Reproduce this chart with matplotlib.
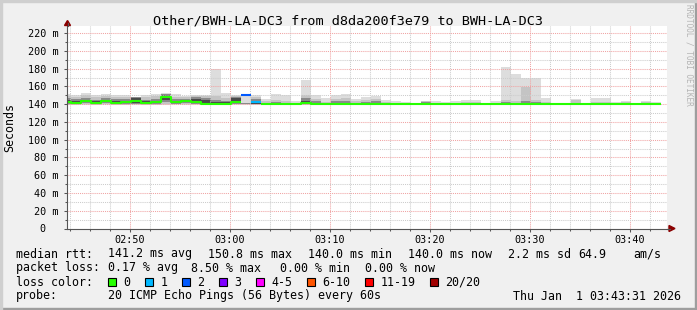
import numpy as np
import matplotlib
matplotlib.use("Agg")
import matplotlib.pyplot as plt
from matplotlib.patches import Rectangle, Polygon
from matplotlib.lines import Line2D
from matplotlib.ticker import MultipleLocator, FuncFormatter

plt.rcParams['font.family'] = ['DejaVu Sans Mono']

W, H = 697, 310

title = "Other/BWH-LA-DC3 from d8da200f3e79 to BWH-LA-DC3"
y_label = "Seconds"
watermark = "RRDTOOL / TOBI OETIKER"

# time axis: minutes after 02:40
base_hour, base_min = 2, 40
view_start, view_end = 3.7, 63.7
first_bin_start = 3.1          # 02:43:06
step_min = 1.0

# median rtt per 60 s step (ms)
median_ms = [142.5, 141.8, 143.5, 141.3, 143.5, 141.5, 142.0, 144.0, 141.5, 142.0,
             148.0, 142.0, 144.0, 142.3, 140.5, 140.0, 140.0, 142.5, 150.8, 142.3,
             140.0, 140.0, 140.0, 140.0, 141.8, 140.3, 140.0, 140.0, 140.0, 140.0,
             140.0, 140.0, 140.0, 140.0, 140.0, 140.0, 140.0, 140.0, 140.0, 140.0,
             140.0, 140.0, 140.0, 140.0, 140.0, 140.0, 140.0, 140.0, 140.0, 140.0,
             140.0, 140.0, 140.0, 140.0, 140.0, 140.0, 140.0, 140.0, 140.0, 140.0]

# lost pings (of 20) per step
loss_pings = [0, 0, 0, 0, 0, 0, 0, 0, 0, 0,
              0, 0, 0, 0, 0, 0, 0, 0, 1.7, 0.35,
              0, 0, 0, 0, 0, 0, 0, 0, 0, 0,
              0, 0, 0, 0, 0, 0, 0, 0, 0, 0,
              0, 0, 0, 0, 0, 0, 0, 0, 0, 0,
              0, 0, 0, 0, 0, 0, 0, 0, 0, 0]

# smoke: nested ping ranges (outer band1 ... inner band4), ms
band1_hi = [151.5, 150.5, 153.0, 150.5, 151.5, 150.0, 150.0, 148.5, 150.5, 152.0,
            153.0, 151.0, 149.5, 150.5, 150.5, 180.0, 152.5, 150.0, 152.0, 150.0,
            146.0, 151.0, 150.0, 143.5, 167.0, 150.0, 147.0, 150.0, 151.5, 146.0,
            148.0, 149.5, 144.5, 143.5, 142.5, 140.8, 143.5, 143.5, 142.0, 143.0,
            144.5, 144.5, 141.5, 143.5, 182.0, 174.0, 169.5, 169.5, 147.0, 141.5,
            140.8, 146.0, 140.8, 147.0, 147.0, 142.5, 143.5, 140.8, 143.5, 142.5]
band2_hi = [149.0, 148.0, 150.0, 148.0, 149.0, 148.0, 148.0, 148.0, 148.0, 149.5,
            152.0, 148.5, 147.5, 149.0, 149.0, 149.0, 147.0, 149.0, 141.5, 148.0,
            143.0, 145.0, 144.0, 141.5, 150.0, 146.0, 142.5, 146.0, 146.5, 143.0,
            145.0, 146.0, 142.5, 141.5, 141.0, 140.5, 143.0, 141.5, 141.0, 141.5,
            142.0, 142.0, 140.8, 141.8, 145.0, 143.5, 159.0, 145.0, 142.5, 140.8,
            140.5, 144.5, 140.5, 142.5, 142.5, 141.0, 142.0, 140.5, 142.0, 141.0]
band3_hi = [146.5, 145.5, 147.0, 145.0, 146.5, 145.5, 145.5, 147.5, 145.0, 146.0,
            151.0, 146.0, 146.0, 147.5, 147.0, 145.0, 144.0, 148.0, 141.0, 146.0,
            141.5, 142.0, 141.5, 140.5, 146.5, 143.5, 141.0, 143.0, 143.0, 141.5,
            142.0, 143.5, 141.0, 140.5, 140.5, 140.2, 142.0, 140.5, 140.5, 140.5,
            141.0, 141.0, 140.3, 140.7, 142.0, 141.5, 143.0, 142.0, 141.0, 140.3,
            140.2, 141.5, 140.2, 141.0, 141.0, 140.5, 140.8, 140.2, 140.8, 140.5]
band4_hi = [144.5, 143.5, 145.0, 143.0, 145.0, 143.5, 143.5, 146.5, 143.0, 144.0,
            150.0, 144.0, 145.0, 145.5, 145.0, 142.5, 142.0, 146.5, 140.7, 144.0,
            140.8, 141.0, 140.5, 140.2, 143.5, 141.5, 140.5, 141.0, 141.0, 140.5,
            141.0, 141.5, 140.5, 140.2, 140.2, 140.0, 141.0, 140.2, 140.2, 140.2,
            140.5, 140.5, 140.1, 140.3, 141.0, 140.7, 141.0, 140.8, 140.5, 140.1,
            140.0, 140.5, 140.0, 140.5, 140.5, 140.2, 140.3, 140.0, 140.3, 140.2]
band4_lo = [141.0, 140.5, 142.0, 140.3, 142.0, 140.5, 141.0, 141.5, 140.5, 141.0,
            144.5, 141.0, 142.0, 141.0, 140.0, 140.0, 140.0, 141.0, 140.3, 140.5,
            140.0, 140.0, 140.0, 140.0, 140.5, 140.0, 140.0, 140.0, 140.0, 140.0,
            140.0, 140.0, 140.0, 140.0, 140.0, 140.0, 140.0, 140.0, 140.0, 140.0,
            140.0, 140.0, 140.0, 140.0, 140.0, 140.0, 140.0, 140.0, 140.0, 140.0,
            140.0, 140.0, 140.0, 140.0, 140.0, 140.0, 140.0, 140.0, 140.0, 140.0]
band3_lo = [140.2, 139.8, 141.0, 139.7, 141.0, 139.8, 140.0, 140.5, 140.0, 140.2,
            142.0, 140.3, 141.0, 140.3, 139.5, 139.8, 139.8, 140.3, 140.0, 140.0,
            140.0, 140.0, 140.0, 140.0, 139.8, 140.0, 140.0, 140.0, 140.0, 140.0,
            140.0, 140.0, 140.0, 140.0, 140.0, 140.0, 140.0, 140.0, 140.0, 140.0,
            140.0, 140.0, 140.0, 140.0, 140.0, 140.0, 140.0, 140.0, 140.0, 140.0,
            140.0, 140.0, 140.0, 140.0, 140.0, 140.0, 140.0, 140.0, 140.0, 140.0]
band2_lo = [139.6, 139.3, 140.0, 139.2, 140.0, 139.3, 139.5, 139.8, 139.5, 139.6,
            140.5, 139.7, 140.0, 139.7, 139.2, 139.5, 139.5, 139.8, 139.8, 139.6,
            140.0, 140.0, 140.0, 140.0, 139.3, 140.0, 140.0, 140.0, 140.0, 140.0,
            140.0, 140.0, 140.0, 140.0, 140.0, 140.0, 140.0, 140.0, 140.0, 140.0,
            140.0, 140.0, 140.0, 140.0, 140.0, 140.0, 140.0, 140.0, 140.0, 140.0,
            140.0, 140.0, 140.0, 140.0, 140.0, 140.0, 140.0, 140.0, 140.0, 140.0]
band1_lo = [139.0, 138.8, 139.3, 138.8, 139.3, 138.8, 139.0, 139.2, 139.0, 139.1,
            139.5, 139.2, 139.5, 139.2, 139.0, 139.3, 139.3, 139.3, 139.5, 139.3,
            139.8, 140.0, 140.0, 140.0, 139.0, 139.8, 140.0, 140.0, 140.0, 140.0,
            140.0, 140.0, 140.0, 140.0, 140.0, 140.0, 140.0, 140.0, 140.0, 140.0,
            140.0, 140.0, 140.0, 140.0, 140.0, 140.0, 140.0, 140.0, 140.0, 140.0,
            140.0, 140.0, 140.0, 140.0, 140.0, 140.0, 140.0, 140.0, 140.0, 140.0]

loss_labels = ['0', '1', '2', '3', '4-5', '6-10', '11-19', '20/20']
loss_upper = [0, 1, 2, 3, 5, 10, 19, 20]
loss_colors = ['#26ff00', '#00b8ff', '#0059ff', '#7e00ff', '#ff00ff',
               '#ff5500', '#ff0000', '#a00000']
smoke_colors = ['#dddddd', '#c4c4c4', '#8a8a8a', '#4a4a4a']

legend_rtt = [("141.2 ms avg", 108), ("150.8 ms max", 207.6), ("140.0 ms min", 307.6),
              ("140.0 ms now", 408), ("2.2 ms sd", 507.6), ("64.9", 577.8), ("am/s", 633.3)]
legend_loss = [("0.17 % avg", 108), ("8.50 % max", 191), ("0.00 % min", 279.5),
               ("0.00 % now", 365)]
loss_box_x = [108, 145, 182, 219, 256.4, 306.7, 365, 430]
probe_text = "20 ICMP Echo Pings (56 Bytes) every 60s"
date_text = "Thu Jan  1 03:43:31 2026"

# ---------------------------------------------------------------
def fx(x):
    return x / W

def fy(y):
    return 1 - y / H

fig = plt.figure(figsize=(W / 100, H / 100), dpi=100, facecolor='#f0f0f0')

# frame shading
fig.patches.append(Rectangle((0, 0), 1, 2 / H, transform=fig.transFigure, color='#9e9e9e', zorder=0))
fig.patches.append(Rectangle((1 - 2 / W, 0), 2 / W, 1, transform=fig.transFigure, color='#9e9e9e', zorder=0))
fig.patches.append(Rectangle((0, 1 - 2 / H), 1, 2 / H, transform=fig.transFigure, color='#cfcfcf', zorder=0))
fig.patches.append(Rectangle((0, 0), 2 / W, 1, transform=fig.transFigure, color='#cfcfcf', zorder=0))

ax_l, ax_r, ax_t, ax_b = 67, 667, 26, 228.5
ax = fig.add_axes([fx(ax_l), fy(ax_b), (ax_r - ax_l) / W, (ax_b - ax_t) / H])
ax.set_facecolor('white')
ax.set_xlim(view_start, view_end)
ax.set_ylim(0, 228)

n = len(median_ms)
edges = first_bin_start + step_min * np.arange(n + 1)

def ext(a):
    a = np.asarray(a, dtype=float)
    return np.append(a, a[-1])

bands = [(band1_lo, band1_hi), (band2_lo, band2_hi), (band3_lo, band3_hi), (band4_lo, band4_hi)]
for (lo, hi), col in zip(bands, smoke_colors):
    ax.fill_between(edges, ext(lo), ext(hi), step='post', color=col, linewidth=0, zorder=1)

# median line colored by loss
loss_arr = np.asarray(loss_pings, dtype=float)
cat = np.array([next(j for j, u in enumerate(loss_upper) if l <= u) for l in loss_arr])
med = np.asarray(median_ms, dtype=float)
for j, col in enumerate(loss_colors):
    y = np.where(cat == j, med, np.nan)
    if np.all(np.isnan(y)):
        continue
    ax.plot(edges, ext(y), drawstyle='steps-post', color=col, lw=1.5,
            solid_capstyle='butt', zorder=4)

# grid
ax.xaxis.set_major_locator(MultipleLocator(10))
ax.xaxis.set_minor_locator(MultipleLocator(2))
ax.yaxis.set_major_locator(MultipleLocator(20))
ax.yaxis.set_minor_locator(MultipleLocator(10))
ax.set_axisbelow(False)
ax.grid(which='minor', color='#cccccc', linestyle=(0, (1, 1)), linewidth=0.75)
ax.grid(which='major', color='#f0a4a4', linestyle=(0, (1, 1)), linewidth=0.75)

def xfmt(v, pos):
    total = base_hour * 60 + base_min + int(round(v))
    return f"{total // 60:02d}:{total % 60:02d}"

def yfmt(v, pos):
    v = int(round(v))
    return f"{v} m" if v else "0  "

ax.xaxis.set_major_formatter(FuncFormatter(xfmt))
ax.yaxis.set_major_formatter(FuncFormatter(yfmt))
ax.tick_params(which='major', direction='out', length=2.5, width=0.75, color='#555555',
               labelsize=7.3, labelcolor='#000000')
ax.tick_params(which='minor', direction='out', length=1.5, width=0.75, color='#555555')
ax.tick_params(axis='x', which='major', pad=2.4)
ax.tick_params(axis='y', which='major', pad=3.6)

for s in ('top', 'right'):
    ax.spines[s].set_visible(False)
for s in ('left', 'bottom'):
    ax.spines[s].set_color('#555555')
    ax.spines[s].set_linewidth(0.8)
    ax.spines[s].set_zorder(5)

# axis extensions and arrows (figure pixels)
fig.lines.append(Line2D([fx(67.5), fx(67.5)], [fy(ax_t), fy(23)], transform=fig.transFigure,
                        color='#555555', lw=0.8))
fig.lines.append(Line2D([fx(ax_r), fx(670)], [fy(228.5), fy(228.5)], transform=fig.transFigure,
                        color='#555555', lw=0.8))
fig.patches.append(Polygon([(fx(64.5), fy(25.5)), (fx(70.5), fy(25.5)), (fx(67.5), fy(20.5))],
                           closed=True, transform=fig.transFigure, color='#8b0000'))
fig.patches.append(Polygon([(fx(669), fy(225.5)), (fx(669), fy(231.5)), (fx(675), fy(228.5))],
                           closed=True, transform=fig.transFigure, color='#8b0000'))

# texts
fig.text(fx(348), fy(24), title, fontsize=9.7, ha='center', va='baseline', color='#000000')
fig.text(fx(10), fy(128), y_label, fontsize=8.4, rotation=90, ha='center', va='center')
fig.text(fx(688.5), fy(4), watermark, fontsize=5.6, rotation=270, ha='center', va='top',
         color='#b4b4b4')

lfs = 8.4
fig.text(fx(16), fy(257.5), "median rtt:", fontsize=lfs, va='baseline')
for s, x in legend_rtt:
    fig.text(fx(x), fy(257.5), s, fontsize=lfs, va='baseline')
fig.text(fx(16), fy(271.5), "packet loss:", fontsize=lfs, va='baseline')
for s, x in legend_loss:
    fig.text(fx(x), fy(271.5), s, fontsize=lfs, va='baseline')
fig.text(fx(16), fy(285.5), "loss color:", fontsize=lfs, va='baseline')
for lab, col, x in zip(loss_labels, loss_colors, loss_box_x):
    fig.patches.append(Rectangle((fx(x), fy(286)), 8 / W, 8 / H, transform=fig.transFigure,
                                 facecolor=col, edgecolor='#000000', lw=0.8))
    fig.text(fx(x + 15.5), fy(285.5), lab, fontsize=lfs, va='baseline')
fig.text(fx(16), fy(299.5), "probe:", fontsize=lfs, va='baseline')
fig.text(fx(108), fy(299.5), probe_text, fontsize=lfs, va='baseline')
fig.text(fx(681), fy(299.5), date_text, fontsize=lfs, va='baseline', ha='right')

fig.savefig('out.png', dpi=100, facecolor=fig.get_facecolor())
